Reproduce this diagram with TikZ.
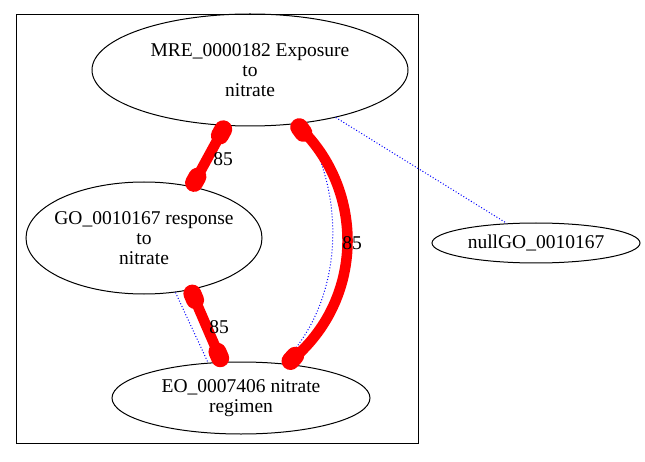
\documentclass[tikz,border=0pt]{standalone}
\usepackage{fontspec}
\setmainfont{Liberation Serif}
\usetikzlibrary{shapes.geometric,calc}
\begin{document}
\begin{tikzpicture}[x=1pt,y=1pt,
  ell/.style={draw,ellipse,inner sep=0pt,line width=1pt},
  txt/.style={align=center,inner sep=0pt,font=\fontsize{19.5}{19.8}\selectfont},
  redline/.style={draw=red,line width=10.5pt,line cap=round},
  blob/.style={draw=red,line width=18pt,line cap=round},
  blueline/.style={draw=blue,dotted,line width=1pt},
  lbl/.style={font=\fontsize{19.5}{20}\selectfont,inner sep=0pt}]
\useasboundingbox (0,0) rectangle (645,461);
\draw[line width=1pt] (16,18) rectangle (418,446);
\node[ell,minimum width=316pt,minimum height=112pt] (mre) at (250,391) {};
\node[txt] (mret) at (mre.center) {MRE\_0000182 Exposure\\to\\nitrate};
\node[ell,minimum width=236pt,minimum height=112pt] (go) at (144,223) {};
\node[txt] (got) at (go.center) {GO\_0010167 response\\to\\nitrate};
\node[ell,minimum width=258pt,minimum height=72pt] (eo) at (241,63) {};
\node[txt] (eot) at (eo.center) {EO\_0007406 nitrate\\regimen};
\node[ell,minimum width=208pt,minimum height=40pt] (null) at (536,218) {};
\node[txt] (nullt) at (null.center) {nullGO\_0010167};
% blue dotted
\draw[blueline] (mre.331) -- (null.146);
\draw[blueline] (mre.314) .. controls (346,271) and (346,161) .. (eo.40);
\draw[blueline] (go.300) -- (eo.133);
% red edges
\coordinate (a1) at ($(mre.246)!4pt!(go.47)$);
\coordinate (a2) at ($(go.47)!4pt!(mre.246)$);
\draw[redline] (a1) -- (a2);
\draw[blob] (a1) -- ($(a1)!7pt!(a2)$);
\draw[blob] (a2) -- ($(a2)!7pt!(a1)$);
\node[lbl] (l1) at (223,302) {85};
\coordinate (b1) at ($(go.312)!4pt!(eo.118)$);
\coordinate (b2) at ($(eo.118)!4pt!(go.312)$);
\draw[redline] (b1) -- (b2);
\draw[blob] (b1) -- ($(b1)!7pt!(b2)$);
\draw[blob] (b2) -- ($(b2)!7pt!(b1)$);
\node[lbl] (l2) at (219,134) {85};
\coordinate (c1) at ($(mre.311)!4pt!(345,271)$);
\coordinate (c2) at ($(eo.36)!4pt!(345,161)$);
\draw[redline] (c1) .. controls (365,271) and (365,161) .. (c2);
\draw[blob] (c1) -- ($(c1)!7pt!(345,271)$);
\draw[blob] (c2) -- ($(c2)!7pt!(345,161)$);
\node[lbl] (l3) at (352,218) {85};
\end{tikzpicture}
\end{document}
